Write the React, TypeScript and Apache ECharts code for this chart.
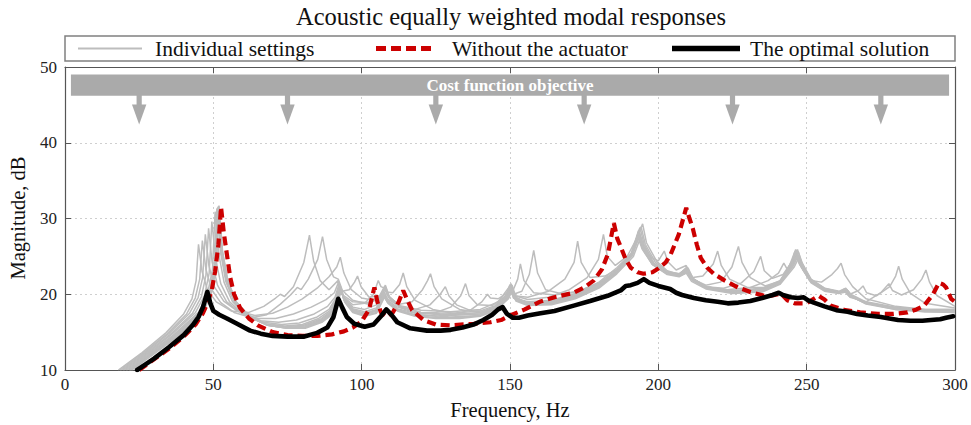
import React, { useEffect, useRef } from "react";
import * as echarts from "echarts";

type Pt = [number, number];

// ---------- data (frequency Hz, magnitude dB) ----------
const setting01: Pt[] = [[18,10],[26,12.3],[34,14.9],[40,17.4],[42.8,19.4],[44.2,21.8],[45,26.6],[46.2,23],[48,20.6],[51,19],[56,17.8],[62,17.6],[67,18.4],[71,19.5],[72.6,20],[74,19.7],[77,21],[80.5,24.2],[82.4,27.8],[83.8,24.4],[86,21.8],[89,20.6],[92,21.8],[93.3,20],[97,19],[102,18.9],[106.5,19.8],[108,21.2],[109.4,19.6],[113,18.5],[120,17.9],[130,17.7],[140,18],[146,19],[149.8,21],[151,20.5],[152.6,22],[153.5,24],[154.7,21.8],[158,20.2],[165,19.9],[173,20.4],[180,21.5],[186,23],[190.5,25],[193.4,28.5],[194.8,26.4],[198,24],[203,22.8],[207,22.6],[209.5,23.3],[211.3,22],[216,20.9],[225,20.4],[235,20.7],[241,21.7],[244.8,24],[246,25.6],[247.5,24],[251,21.9],[256,20.7],[261,20.3],[262.8,20.7],[264.5,19.9],[270,18.9],[280,18.2],[290,17.9],[300,17.9]];
const setting02: Pt[] = [[18.5,10],[26.5,12.3],[34.5,14.8],[41,17.4],[43.9,19.5],[45.4,22],[46.3,27.1],[47.5,23.3],[49.3,20.7],[52.5,18.9],[57,17.6],[63,16.9],[68,17.3],[72.6,18.7],[76,19.9],[78.3,20.9],[79.6,20.6],[82,22],[85.2,24.6],[86.8,27.6],[88.2,24.6],[90.5,22.3],[92.1,22],[93.5,20.5],[97,19.2],[102,18.7],[106.5,19.6],[108,21],[109.4,19.5],[113,18.3],[120,17.6],[130,17.5],[140,17.8],[145,18.5],[148.5,19.8],[150,21.3],[151.2,20],[154,20.4],[156.5,22.6],[158,25.8],[159.3,22.8],[162,20.6],[168,20],[175,20.5],[181,21.7],[186,23.2],[191,25.4],[193.8,28.8],[195.2,26.6],[198.5,24.1],[203,22.9],[207,22.7],[209.8,23.5],[211.6,22.1],[216,21],[225,20.5],[235,20.8],[241,21.8],[245,24.2],[246.4,25.8],[247.8,24.2],[251,22],[256,20.8],[261,20.4],[263.2,20.8],[264.8,20],[270,19],[280,18.3],[290,18],[300,18]];
const setting03: Pt[] = [[19,10],[27,12.3],[35,14.8],[42,17.5],[44.9,19.6],[46.4,22.2],[47.3,27.9],[48.5,23.8],[50.3,21],[53.5,19.1],[58,17.8],[64,17.2],[70,17.5],[75,18.3],[80,19.4],[85,20.8],[89,22.3],[91.6,23.6],[92.8,24.9],[94,22.8],[96.5,20.6],[100,19.5],[104,19.2],[106.7,19.9],[107.8,21.1],[109.2,19.7],[113,18.4],[120,17.6],[130,17.3],[140,17.6],[145,18.4],[148.8,19.9],[150.2,21.1],[151.4,19.8],[156,19.6],[163,20.4],[168.5,22],[171.6,24.2],[172.8,27],[174,24.2],[177,22.2],[182,22.4],[187,23.5],[191.5,25.6],[194.2,28.9],[195.6,26.6],[199,24.2],[203,23],[207,22.7],[209.2,23.3],[211,22],[216,20.9],[225,20.4],[235,20.6],[241,21.6],[245.2,24.2],[246.6,25.5],[248,24],[251,21.9],[256,20.7],[261,20.3],[263.6,20.6],[265.2,19.8],[270,18.9],[280,18.2],[290,17.8],[300,17.7]];
const setting04: Pt[] = [[19.5,10],[27.5,12.3],[35.5,14.7],[43,17.5],[46,19.7],[47.5,22.5],[48.4,28.7],[49.6,24.2],[51.4,21.2],[54.5,19],[59,17.6],[65,16.8],[71,16.8],[77,17.4],[83,18.3],[88,19.3],[90.8,20.2],[92.2,21.6],[93.4,20.4],[95.8,20.6],[97.6,21.6],[98.6,22.4],[99.8,21],[102.5,19.6],[106,19.8],[107.7,21],[109,19.8],[113,18.4],[120,17.5],[130,17.2],[140,17.4],[145,18.2],[149,19.8],[150.4,21.4],[151.6,19.8],[156,19.3],[163,19.6],[170,20.6],[176,22.2],[179.8,24.6],[181.5,27.9],[182.8,25],[185.5,23.8],[189.5,25],[192.8,27.4],[194.7,29.3],[196,26.8],[199.5,24.3],[203,23.1],[207,22.6],[209.6,23.6],[211.4,22.1],[216,21],[225,20.4],[235,20.6],[241,21.6],[245.4,24.6],[246.9,25.9],[248.2,24.3],[251.5,22],[256,20.8],[261,20.3],[263,20.5],[264.6,19.8],[270,18.8],[280,18.1],[290,17.8],[300,17.7]];
const setting05: Pt[] = [[20,10],[28,12.3],[36,14.7],[44,17.6],[47,19.8],[48.6,22.8],[49.5,29.6],[50.7,24.8],[52.5,21.4],[55.5,19],[60,17.4],[66,16.5],[72,16.3],[78,16.6],[84,17.4],[88.5,18.4],[91,19.6],[92.4,21.4],[93.6,19.8],[97,18.6],[101,18.8],[104,20],[105.6,21.8],[106.5,21],[107.6,20.8],[109,19.6],[113,18.2],[120,17.3],[130,17],[140,17.2],[145,18],[148.8,19.6],[150,20.8],[151.2,19.5],[156,19],[164,19.2],[172,20.1],[180,21.6],[186,23.5],[191.5,25.6],[193.6,28],[195,26.4],[197.5,24.9],[200,24.4],[202,25.7],[203.2,24.3],[206,23.2],[209.4,23.8],[211.2,22.2],[216,21],[225,20.4],[235,20.6],[241,21.6],[245,24],[246.4,25.3],[247.8,23.9],[251,21.8],[256,20.6],[261,20.2],[263.4,20.5],[265,19.7],[270,18.8],[280,18.1],[290,17.8],[300,17.6]];
const setting06: Pt[] = [[20.5,10],[28.5,12.3],[36.5,14.6],[45,17.6],[48,20],[49.7,23.2],[50.6,30.9],[51.8,25.4],[53.6,21.6],[56.5,19],[61,17.2],[67,16.3],[73,16],[79,16.2],[85,17],[89,18],[91.3,19.5],[92.6,21.3],[93.8,19.6],[97,18.3],[101,18],[105,18.6],[107.4,20.6],[108.4,20.3],[110.5,20.2],[112.8,21.3],[114,22.8],[115.2,21],[118,19.2],[124,18],[132,17.4],[140,17.4],[145,18],[149,19.6],[150.4,21],[151.6,19.4],[156,18.9],[164,19.1],[172,20],[180,21.4],[186,23.2],[191,25.2],[193,27.7],[194.5,26],[198,23.9],[203,22.8],[207,22.6],[209.7,23.4],[211.6,22.2],[215,22.4],[218.5,24],[220,25.7],[221.2,23.8],[224,22],[230,20.9],[237,20.9],[242,21.9],[245.5,24.1],[247,25.2],[248.4,23.8],[251.5,21.8],[256,20.6],[261,20.2],[262.6,20.6],[264.2,19.8],[270,18.8],[280,18],[290,17.7],[300,17.6]];
const setting07: Pt[] = [[21,10],[29,12.3],[37,14.6],[45.5,17.6],[48.6,20.1],[50.3,23.4],[51.2,31.3],[52.4,25.6],[54.2,21.7],[57,19],[61.5,17.1],[67.5,16.1],[74,15.8],[80,16],[85.5,16.8],[89.2,17.8],[91.4,19.3],[92.7,21.1],[93.9,19.4],[97,18.1],[101,17.7],[105,18.2],[107.5,20.4],[108.7,19.4],[112,18.6],[117,19],[120.5,20.6],[122.2,21.8],[123.2,22.7],[124.4,21],[127,19.4],[133,18],[140,17.6],[145,18.1],[149.2,19.6],[150.6,20.9],[151.8,19.4],[156,18.8],[164,19],[172,19.9],[180,21.3],[186,23.1],[191.2,25.3],[193.2,28],[194.7,26],[198,23.9],[203,22.8],[207,22.6],[209.9,23.2],[211.7,22],[216,21.2],[221,21.6],[224.8,23.6],[227,26.3],[228.2,24.2],[231,22.2],[236,21.1],[241.5,21.8],[245.8,24.4],[247.2,25.6],[248.6,24],[251.5,21.8],[256,20.6],[261,20.2],[263.8,20.5],[265.4,19.7],[270,18.7],[280,18],[290,17.7],[300,17.7]];
const setting08: Pt[] = [[21.5,10],[29.5,12.3],[37.5,14.6],[45.8,17.6],[48.8,20.1],[50.5,23.5],[51.4,31.4],[52.6,25.6],[54.4,21.7],[57.2,19],[62,17],[68,16],[74.5,15.7],[80.5,15.9],[86,16.7],[89.5,17.7],[91.5,19.2],[92.8,21],[94,19.3],[97,18],[101,17.5],[105,18],[107.6,20.2],[108.8,19.2],[112,18.3],[118,18],[123,18.6],[126.5,20],[128.2,21],[129.4,19.8],[132,18.6],[137,17.8],[142,17.8],[146,18.5],[149.4,19.9],[150.7,21.2],[152,19.6],[156,18.8],[164,18.9],[172,19.8],[180,21.2],[186,23.1],[191.4,25.5],[193.6,28.2],[195,26.1],[198.5,23.9],[203,22.8],[207,22.6],[210,23.5],[211.8,22],[216,21],[222,20.8],[228,21.5],[232.2,23],[234.5,25],[235.7,23.1],[238.5,22.1],[242,22.6],[245.2,24.4],[246.5,25.4],[247.9,23.8],[251.5,21.8],[256,20.6],[261,20.2],[263,20.7],[264.6,19.8],[270,18.8],[280,18.1],[290,17.8],[300,17.8]];
const setting09: Pt[] = [[21.8,10],[29.8,12.3],[37.8,14.6],[46,17.6],[49,20.2],[50.7,23.6],[51.6,31.5],[52.8,25.7],[54.6,21.8],[57.4,19],[62.2,17],[68.2,15.9],[74.8,15.6],[80.8,15.8],[86.2,16.6],[89.7,17.6],[91.6,19.1],[92.9,21],[94.1,19.2],[97,17.9],[101,17.4],[105,17.9],[107.4,20],[108.6,19.1],[112,18.1],[118,17.5],[125,17.6],[130,18.3],[133.4,19.8],[135,21.4],[136.2,19.8],[139,18.6],[144,18.5],[148.6,19.8],[150,21],[151.2,19.5],[156,18.7],[164,18.8],[172,19.7],[180,21.1],[186,23],[191.2,25.4],[193.4,28.4],[194.9,26.2],[198.4,23.9],[203,22.8],[207,22.5],[209.5,23.1],[211.4,22],[216,21],[223,20.6],[231,20.9],[237,21.8],[240.5,22.8],[242.3,24.1],[243.6,23.2],[245,24.6],[246.3,25.9],[247.8,24.2],[251.5,21.9],[256,20.7],[261,20.3],[263.4,20.6],[265,19.8],[270,18.8],[280,18.1],[290,17.8],[300,17.8]];
const setting10: Pt[] = [[22,10],[30,12.3],[38,14.6],[46.2,17.6],[49.2,20.2],[50.8,23.6],[51.7,31.6],[52.9,25.7],[54.7,21.8],[57.5,19],[62.3,17],[68.3,15.9],[75,15.5],[81,15.7],[86.4,16.5],[89.8,17.5],[91.7,19],[93,20.8],[94.2,19.1],[97,17.8],[101,17.3],[105,17.8],[107.5,19.9],[108.7,19],[112,18],[118,17.3],[125,17.1],[132,17.4],[137,18],[140.5,19],[142.4,20],[143.4,19.5],[146,19.4],[149.2,20.2],[150.4,21.2],[151.6,19.6],[156,18.8],[164,18.8],[172,19.6],[180,21],[186,22.9],[191.2,25.3],[193.5,28.1],[195,26],[198.5,23.8],[203,22.7],[207,22.5],[209.6,23],[211.4,21.9],[216,20.9],[225,20.3],[235,20.5],[241,21.5],[245.4,23.9],[246.8,25.1],[248.2,23.6],[251.5,21.8],[255,21.6],[258.5,22.6],[260.4,23.4],[261.6,24.1],[262.8,22.6],[265.5,21],[270,19.4],[280,18.4],[290,18],[300,18]];
const setting11: Pt[] = [[22.3,10],[30.3,12.3],[38.3,14.6],[46.4,17.6],[49.3,20.2],[50.9,23.6],[51.8,31.6],[53,25.7],[54.8,21.8],[57.6,19],[62.4,17],[68.4,15.9],[75,15.5],[81,15.6],[86.5,16.4],[89.9,17.4],[91.8,18.9],[93.1,20.7],[94.3,19],[97,17.7],[101,17.2],[105,17.6],[107.6,19.7],[108.8,18.9],[112,17.9],[118,17.2],[125,16.9],[133,16.9],[140,17.2],[145,17.9],[149.4,19.5],[150.7,20.7],[151.9,19.2],[156,18.6],[164,18.7],[172,19.5],[180,20.9],[186,22.8],[191.4,25.2],[193.7,27.8],[195.1,25.9],[198.6,23.8],[203,22.7],[207,22.4],[209.8,22.9],[211.6,21.8],[216,20.8],[225,20.2],[235,20.4],[241,21.4],[245.6,23.8],[247,25],[248.4,23.5],[251.5,21.6],[256,20.5],[260.5,20.2],[262.6,20.4],[264,19.9],[267.5,20.5],[269,21.1],[270.2,20.2],[273.5,19.8],[278,21],[280,22.4],[281,23.7],[282.2,22],[285,20.1],[290,18.8],[300,18.2]];
const setting12: Pt[] = [[22.6,10],[30.6,12.3],[38.6,14.6],[46.6,17.6],[49.4,20.2],[51,23.6],[51.9,31.7],[53.1,25.7],[54.9,21.8],[57.7,19],[62.5,17],[68.5,15.9],[75,15.5],[81,15.5],[86.6,16.3],[90,17.3],[91.9,18.8],[93.2,20.6],[94.4,18.9],[97,17.6],[101,17.1],[105,17.5],[107.7,19.6],[108.9,18.8],[112,17.8],[118,17.1],[125,16.8],[133,16.8],[140,17.1],[145,17.8],[149.5,19.4],[150.8,20.6],[152,19.1],[156,18.5],[164,18.6],[172,19.4],[180,20.8],[186,22.7],[191.6,25],[194,27.5],[195.4,25.8],[198.8,23.7],[203,22.6],[207,22.3],[209.4,22.8],[211.2,21.7],[216,20.7],[225,20.1],[235,20.3],[241,21.3],[245.8,23.6],[247.2,24.7],[248.6,23.3],[251.5,21.5],[256,20.4],[260.8,20.1],[263.2,20.3],[264.6,19.6],[270,19],[275,20.2],[277.7,21.4],[278.9,20.5],[282,19.9],[286,20.6],[288.8,22],[290.2,23.2],[291.4,21.6],[294,19.8],[300,18.4]];

const individualSettings: Pt[][] = [
  setting01, setting02, setting03, setting04, setting05, setting06,
  setting07, setting08, setting09, setting10, setting11, setting12,
];

const withoutActuator: Pt[] = [[25,10],[30,11.4],[35,12.8],[40,14.4],[44,16],[46.5,17.5],[48,18.8],[49.5,20.6],[50.6,23],[51.7,26.5],[52.6,31.5],[53.5,28.2],[54.3,26],[55.7,22.2],[57,20],[59,18.2],[62,16.8],[65,15.9],[70,15],[75,14.6],[80,14.5],[85,14.5],[90,14.7],[94,15.1],[97,15.6],[100,16.4],[102.5,18],[104.3,20.9],[105.3,19],[106.5,17.6],[108.6,17],[110.5,17.6],[112.5,19],[114,20.5],[115.3,19.3],[117,17.9],[120.8,16.6],[125,16],[130,15.9],[137.7,16.1],[143.4,16.3],[147,16.6],[150,17.2],[155,18],[160,19],[165,19.6],[171.5,20.2],[175,20.9],[178.2,21.8],[181,23.3],[183,25.3],[185,29.4],[186.2,27.3],[187.3,26.3],[189,24.6],[190.7,23.5],[193,22.9],[195,22.7],[198,22.9],[200,23.4],[202.5,24.2],[204.2,25.3],[206.9,27.9],[209.4,31.4],[210.5,30],[211.6,28.7],[213,26.5],[214.3,24.8],[216.5,23.5],[218.7,22.7],[222,21.9],[226.8,20.9],[231,20.3],[235.6,19.8],[238,19.8],[241.3,20.1],[243.5,19.2],[246,18.8],[250,18.8],[252,19.3],[254,19.8],[256,19.3],[258,18.5],[263,17.9],[268,17.6],[274,17.4],[279,17.4],[284,17.6],[287,18],[289.6,18.5],[292.6,20],[294.6,21.5],[296,21.3],[297,20.9],[298.7,19.4],[300,19]];

const optimalSolution: Pt[] = [[24.3,10],[27,10.7],[30,11.5],[35,13],[40,14.6],[43,15.9],[45,17],[46.5,18.3],[48,20.3],[49,18.8],[50,17.8],[52,17.3],[54.6,16.8],[58,16.1],[62.4,15.2],[66,14.8],[70,14.5],[75,14.4],[80.4,14.4],[85,14.9],[88.4,15.6],[90.5,17],[92.1,19.4],[93.5,18.2],[95,17],[97.5,16.1],[101,15.7],[104,16],[106.5,17.1],[108.3,18],[110,17.3],[112,16.3],[116.4,15.5],[122,15.2],[126.6,15.2],[130,15.3],[134,15.6],[137.7,16],[141,16.6],[144,17.3],[146,18],[147.5,18.3],[149,17.4],[150.9,16.9],[153,16.9],[156,17.2],[160.3,17.5],[165,17.8],[171.5,18.5],[177,19.1],[182.9,19.8],[187.3,20.5],[189,21.1],[190.7,21.2],[193,21.5],[195.1,22],[197,21.5],[200,21.1],[204,20.7],[206,20.2],[208,19.9],[212,19.5],[216,19.2],[220,19],[223.4,18.8],[227,18.9],[231,19.1],[235,19.5],[238.5,19.9],[240.6,20.2],[242,19.9],[244.7,19.6],[247,19.5],[249,19.6],[250.5,19.2],[252.4,18.9],[256,18.4],[260,17.9],[263.8,17.7],[267,17.4],[270.6,17.2],[275,17],[280.8,16.6],[285,16.5],[289,16.5],[291.9,16.6],[295,16.7],[297,16.9],[299.4,17.1]];

const objectiveFrequencies = [25, 75, 125, 175, 225, 275];
const objectiveBandFreq = [2, 298];
const objectiveBandDb = [49.0, 46.2];
const objectiveArrowTipDb = 42.4;

const legendLabels = ["Individual settings", "Without the actuator", "The optimal solution"];
const titleText = "Acoustic equally weighted modal responses";
const xName = "Frequency, Hz";
const yName = "Magnitude, dB";

const SERIF = '"Liberation Serif", "Times New Roman", serif';
const GRAY = "#bdbdbd";
const RED = "#cc0000";
const BAND = "#aaaaaa";
const FRAME = "#555555";

export default function App() {
  const ref = useRef<HTMLDivElement>(null);

  useEffect(() => {
    if (!ref.current) return;
    const chart = echarts.init(ref.current, null, { renderer: "svg" });

    const graySeries = individualSettings.map((d) => ({
      type: "line",
      name: legendLabels[0],
      data: d,
      symbol: "none",
      showSymbol: false,
      silent: true,
      z: 2,
      lineStyle: { color: GRAY, width: 1.5 },
    }));

    const axisCommon = {
      axisLine: { show: true, onZero: false, lineStyle: { color: FRAME, width: 1.2 } },
      axisTick: { show: true, inside: true, length: 6, lineStyle: { color: FRAME, width: 1 } },
    };

    const option: any = {
      animation: false,
      grid: { left: 65, right: 16, top: 67, bottom: 55, containLabel: false },
      xAxis: [
        {
          type: "value", min: 0, max: 300, interval: 50, position: "bottom",
          ...axisCommon,
          axisLabel: { show: true, margin: 6, color: "#222", fontFamily: SERIF, fontSize: 17 },
          splitLine: { show: true, lineStyle: { color: "#cfcfcf", type: [2, 3], width: 1 } },
        },
        {
          type: "value", min: 0, max: 300, interval: 50, position: "top",
          ...axisCommon,
          axisLabel: { show: false },
          splitLine: { show: false },
        },
      ],
      yAxis: [
        {
          type: "value", min: 10, max: 50, interval: 10, position: "left",
          ...axisCommon,
          axisLabel: { show: true, margin: 8, color: "#222", fontFamily: SERIF, fontSize: 17 },
          splitLine: { show: true, lineStyle: { color: "#cfcfcf", type: [2, 3], width: 1 } },
        },
        {
          type: "value", min: 10, max: 50, interval: 10, position: "right",
          ...axisCommon,
          axisLabel: { show: false },
          splitLine: { show: false },
        },
      ],
      series: [
        ...graySeries,
        {
          type: "line",
          name: legendLabels[1],
          data: withoutActuator,
          symbol: "none",
          silent: true,
          z: 3,
          lineStyle: { color: RED, width: 4.2, type: [9, 5], cap: "butt" },
        },
        {
          type: "line",
          name: legendLabels[2],
          data: optimalSolution,
          symbol: "none",
          silent: true,
          z: 4,
          lineStyle: { color: "#000", width: 4.6, join: "round", cap: "round" },
        },
        {
          type: "custom",
          silent: true,
          z: 5,
          data: [[objectiveBandFreq[0], objectiveBandDb[0], objectiveBandFreq[1], objectiveBandDb[1]]],
          renderItem: (_p: any, api: any) => {
            const a = api.coord([api.value(0), api.value(1)]);
            const b = api.coord([api.value(2), api.value(3)]);
            return {
              type: "group",
              children: [
                { type: "rect", shape: { x: a[0], y: a[1], width: b[0] - a[0], height: b[1] - a[1] }, style: { fill: BAND } },
                {
                  type: "text",
                  x: (a[0] + b[0]) / 2,
                  y: (a[1] + b[1]) / 2,
                  style: {
                    text: "Cost function objective",
                    fill: "#ffffff",
                    font: `bold 17px ${SERIF}`,
                    align: "center",
                    verticalAlign: "middle",
                  },
                },
              ],
            };
          },
        },
        {
          type: "custom",
          silent: true,
          z: 5,
          data: objectiveFrequencies.map((f) => [f, objectiveBandDb[1], objectiveArrowTipDb]),
          renderItem: (_p: any, api: any) => {
            const top = api.coord([api.value(0), api.value(1)]);
            const tip = api.coord([api.value(0), api.value(2)]);
            const headH = 20;
            return {
              type: "group",
              children: [
                {
                  type: "rect",
                  shape: { x: top[0] - 2.6, y: top[1] - 1, width: 5.2, height: tip[1] - top[1] - headH + 2 },
                  style: { fill: BAND },
                },
                {
                  type: "polygon",
                  shape: { points: [[top[0] - 7.2, tip[1] - headH], [top[0] + 7.2, tip[1] - headH], [top[0], tip[1]]] },
                  style: { fill: BAND },
                },
              ],
            };
          },
        },
      ],
      graphic: [
        {
          type: "text", x: 511, y: 16,
          style: { text: titleText, font: `24.5px ${SERIF}`, fill: "#111", align: "center", verticalAlign: "middle" },
        },
        {
          type: "rect",
          shape: { x: 65, y: 36, width: 890, height: 25 },
          style: { fill: "#fff", stroke: "#808080", lineWidth: 1.5 },
        },
        { type: "line", shape: { x1: 78, y1: 48.5, x2: 142, y2: 48.5 }, style: { stroke: GRAY, lineWidth: 2 } },
        {
          type: "text", x: 155, y: 48.5,
          style: { text: legendLabels[0], font: `21.5px ${SERIF}`, fill: "#111", align: "left", verticalAlign: "middle" },
        },
        { type: "line", shape: { x1: 376, y1: 48.5, x2: 433, y2: 48.5 }, style: { stroke: RED, lineWidth: 5, lineDash: [10, 5] } },
        {
          type: "text", x: 452, y: 48.5,
          style: { text: legendLabels[1], font: `21.5px ${SERIF}`, fill: "#111", align: "left", verticalAlign: "middle" },
        },
        { type: "line", shape: { x1: 672, y1: 48.5, x2: 740, y2: 48.5 }, style: { stroke: "#000", lineWidth: 5.5 } },
        {
          type: "text", x: 750, y: 48.5,
          style: { text: legendLabels[2], font: `21.5px ${SERIF}`, fill: "#111", align: "left", verticalAlign: "middle" },
        },
        {
          type: "text", x: 510, y: 410,
          style: { text: xName, font: `20.5px ${SERIF}`, fill: "#111", align: "center", verticalAlign: "middle" },
        },
        {
          type: "text", x: 18, y: 218, rotation: Math.PI / 2,
          style: { text: yName, font: `20.5px ${SERIF}`, fill: "#111", align: "center", verticalAlign: "middle" },
        },
      ],
    };

    chart.setOption(option);
    return () => chart.dispose();
  }, []);

  return (
    <div
      ref={ref}
      style={{ position: "fixed", left: 0, top: 0, width: 971, height: 425, background: "#fff" }}
    />
  );
}
